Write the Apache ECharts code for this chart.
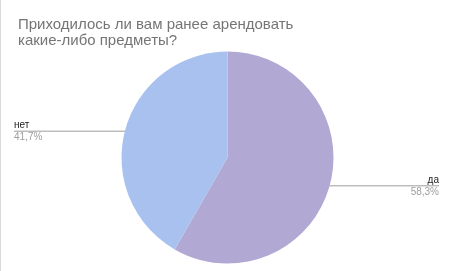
<!DOCTYPE html>
<html>
<head>
<meta charset="utf-8">
<script src="https://cdn.jsdelivr.net/npm/echarts@6/dist/echarts.min.js"></script>
<style>
html,body{margin:0;padding:0;background:#fff;}
#c{width:450px;height:271px;box-sizing:border-box;border-left:1px solid #d9d9d9;}
</style>
</head>
<body>
<div id="c"></div>
<script>
var titleText = 'Приходилось ли вам ранее арендовать\nкакие-либо предметы?';
var categories = ['да', 'нет'];
var values = [58.3, 41.7];
var percentLabels = ['58,3%', '41,7%'];
var colors = ['#b2a8d4', '#a9c1ef'];

var chart = echarts.init(document.getElementById('c'), null, {renderer: 'canvas'});
var W = 450;
var leftEdge = 13, rightEdge = 438;

chart.setOption({
  animation: false,
  title: {
    text: titleText,
    left: 12, top: 12,
    textStyle: {fontFamily: 'Liberation Sans, Arial', fontSize: 15, fontWeight: 'normal', color: '#757575', lineHeight: 16}
  },
  series: [{
    type: 'pie',
    center: [226.5, 157.5],
    radius: 106,
    startAngle: 90,
    clockwise: true,
    data: categories.map(function (c, i) {
      return {name: c, value: values[i], itemStyle: {color: colors[i]}};
    }),
    label: {
      show: true,
      position: 'outside',
      formatter: function (p) {
        return '{n|' + p.name + '}\n{p|' + percentLabels[p.dataIndex] + '}';
      },
      rich: {
        n: {fontFamily: 'Liberation Sans, Arial', fontSize: 10, color: '#222', lineHeight: 12},
        p: {fontFamily: 'Liberation Sans, Arial', fontSize: 10, color: '#9e9e9e', lineHeight: 12}
      }
    },
    labelLine: {show: true, lineStyle: {color: '#9e9e9e', width: 1}},
    labelLayout: function (params) {
      var pts = params.labelLinePoints;
      var p0 = pts[0];
      var cx = 226.5;
      var left = p0[0] < cx;
      var inset = 5;
      var sx = left ? p0[0] + inset : p0[0] - inset;
      var y = p0[1] + 1;
      if (left) {
        return {x: leftEdge, y: y, align: 'left', verticalAlign: 'middle',
          labelLinePoints: [[sx, y], [leftEdge, y], [leftEdge, y]]};
      } else {
        return {x: rightEdge, y: y, align: 'right', verticalAlign: 'middle',
          labelLinePoints: [[sx, y], [rightEdge, y], [rightEdge, y]]};
      }
    }
  }]
});
</script>
</body>
</html>
